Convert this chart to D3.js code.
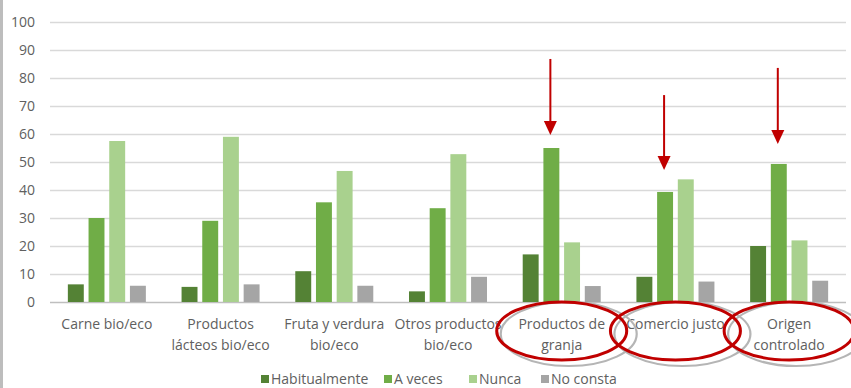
<!DOCTYPE html>
<html>
<head>
<meta charset="utf-8">
<title>Compra de productos</title>
<script src="https://cdn.jsdelivr.net/npm/d3@7"></script>
<style>
  body { margin: 0; background: #fff; }
  text { font-family: "Open Sans", sans-serif; fill: #606060; }
</style>
</head>
<body>
<script>
// categories (label lines) and series
var categories = [
  ["Carne bio/eco"],
  ["Productos", "lácteos bio/eco"],
  ["Fruta y verdura", "bio/eco"],
  ["Otros productos", "bio/eco"],
  ["Productos de", "granja"],
  ["Comercio justo"],
  ["Origen", "controlado"]
];
var series = ["Habitualmente", "A veces", "Nunca", "No consta"];
var colors = ["#548235", "#70ad47", "#a9d18e", "#a5a5a5"];

var habitualmente = [6.3, 5.4, 11, 3.8, 17, 9, 20];
var aVeces        = [30, 29, 35.6, 33.5, 55, 39.3, 49.3];
var nunca         = [57.5, 59, 46.8, 52.8, 21.3, 43.8, 22];
var noConsta      = [5.8, 6.3, 5.8, 9, 5.7, 7.3, 7.6];
var values = [habitualmente, aVeces, nunca, noConsta];

var yTicks = [0, 10, 20, 30, 40, 50, 60, 70, 80, 90, 100];

// highlighted categories: arrow from / to (value units)
var arrowCats = [4, 5, 6];
var arrowFrom = [86.8, 73.9, 83.6];
var arrowTo   = [59.6, 47.1, 56.4];

var W = 851, H = 388;
var svg = d3.select("body").append("svg").attr("width", W).attr("height", H);

svg.append("rect").attr("x", 0).attr("y", 0).attr("width", 3).attr("height", H)
   .attr("fill", "#bdbdbd");

var y = d3.scaleLinear().domain([0, 100]).range([302, 22]);
var x0 = d3.scaleBand().domain(d3.range(categories.length)).range([50, 846])
           .paddingInner(0.314).paddingOuter(0.157);
var x1 = d3.scaleBand().domain(d3.range(series.length)).range([0, x0.bandwidth()])
           .paddingInner(0.23).paddingOuter(0);

// gridlines
svg.append("g").selectAll("line").data(yTicks).enter().append("line")
   .attr("x1", 50).attr("x2", 846)
   .attr("y1", function(d) { return y(d) + 0.5; })
   .attr("y2", function(d) { return y(d) + 0.5; })
   .attr("stroke", function(d) { return d == 0 ? "#bfbfbf" : "#d9d9d9"; })
   .attr("stroke-width", 1.3);

// y labels
svg.append("g").selectAll("text").data(yTicks).enter().append("text")
   .attr("x", 35).attr("y", function(d) { return y(d); })
   .attr("dy", "0.35em").attr("text-anchor", "end")
   .attr("font-size", "14px").text(function(d) { return d; });

// bars
var groups = svg.append("g").selectAll("g").data(categories).enter().append("g")
   .attr("transform", function(d, i) { return "translate(" + x0(i) + ",0)"; });
groups.selectAll("rect")
   .data(function(d, i) { return values.map(function(s, k) { return {k: k, v: s[i]}; }); })
   .enter().append("rect")
   .attr("x", function(d) { return x1(d.k); })
   .attr("width", x1.bandwidth())
   .attr("y", function(d) { return y(d.v); })
   .attr("height", function(d) { return y(0) - y(d.v); })
   .attr("fill", function(d) { return colors[d.k]; });

// category labels
var cx = function(i) { return x0(i) + x0.bandwidth() / 2; };
var labels = svg.append("g").selectAll("text").data(categories).enter().append("text")
   .attr("x", function(d, i) { return cx(i); })
   .attr("y", 329).attr("text-anchor", "middle").attr("font-size", "14px");
labels.selectAll("tspan").data(function(d) { return d; }).enter().append("tspan")
   .attr("x", function() { return this.parentNode.getAttribute("x"); })
   .attr("dy", function(d, j) { return j == 0 ? 0 : 21; })
   .text(function(d) { return d; });

// ellipses around highlighted labels (grey shadow, then red)
var ann = svg.append("g");
ann.selectAll("ellipse.shadow").data(arrowCats).enter().append("ellipse")
   .attr("class", "shadow")
   .attr("cx", function(d) { return cx(d) + 7; }).attr("cy", 334)
   .attr("rx", 68).attr("ry", 32)
   .attr("fill", "none").attr("stroke", "#b5b5b5").attr("stroke-width", 2.2);
ann.selectAll("ellipse.red").data(arrowCats).enter().append("ellipse")
   .attr("class", "red")
   .attr("cx", function(d) { return cx(d); }).attr("cy", 331)
   .attr("rx", 65).attr("ry", 29)
   .attr("fill", "none").attr("stroke", "#c00000").attr("stroke-width", 3);

// arrows over "A veces" bars
var ax = function(i) { return x0(arrowCats[i]) + x1(1) + x1.bandwidth() / 2 - 1; };
ann.selectAll("line.arrow").data(arrowCats).enter().append("line")
   .attr("x1", function(d, i) { return ax(i); }).attr("x2", function(d, i) { return ax(i); })
   .attr("y1", function(d, i) { return y(arrowFrom[i]); })
   .attr("y2", function(d, i) { return y(arrowTo[i]) - 10; })
   .attr("stroke", "#c00000").attr("stroke-width", 2);
ann.selectAll("path.head").data(arrowCats).enter().append("path")
   .attr("d", function(d, i) {
     var px = ax(i), py = y(arrowTo[i]);
     return "M" + (px - 6.5) + "," + (py - 14) + "L" + (px + 6.5) + "," + (py - 14) + "L" + px + "," + py + "Z";
   })
   .attr("fill", "#c00000");

// legend
var legX = [261, 384, 469, 541];
var leg = svg.append("g").selectAll("g").data(series).enter().append("g")
   .attr("transform", function(d, i) { return "translate(" + legX[i] + ",379)"; });
leg.append("rect").attr("x", 0).attr("y", -4).attr("width", 8).attr("height", 8)
   .attr("fill", function(d, i) { return colors[i]; });
leg.append("text").attr("x", 10).attr("dy", "0.35em").attr("font-size", "14px")
   .text(function(d) { return d; });
</script>
</body>
</html>
